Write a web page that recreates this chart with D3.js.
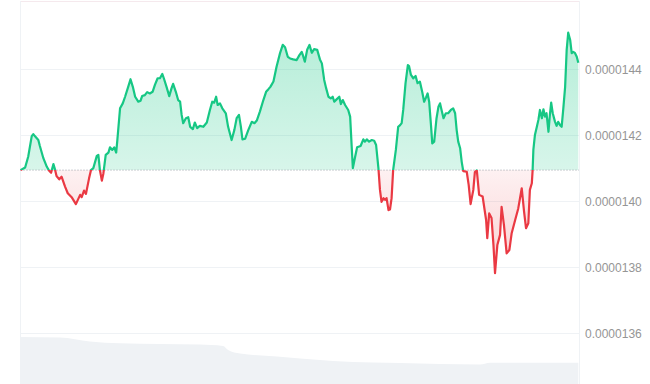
<!DOCTYPE html>
<html><head><meta charset="utf-8">
<script src="https://cdn.jsdelivr.net/npm/d3@7"></script>
<style>html,body{margin:0;padding:0;background:#fff;} svg{display:block;}</style>
</head><body>
<svg id="chart" width="650" height="384"></svg>
<script>
// time in minutes since window start (24h)
const timesMin = [0,12,20,29,33,37,46,50,59,68,74,79,85,89,93,100,106,115,122,132,143,154,158,164,169,177,182,188,197,201,205,210,214,220,227,231,237,242,247,250,257,264,270,278,284,290,296,304,310,314,321,327,334,341,347,354,360,366,370,377,384,390,394,401,407,412,416,420,427,433,438,445,450,456,463,472,481,489,495,500,505,509,515,521,530,536,545,552,558,564,569,573,580,588,597,604,610,618,627,634,640,645,648,653,661,670,677,683,690,696,704,713,720,726,729,734,740,746,752,758,766,773,778,784,789,795,801,806,810,816,823,827,832,838,846,851,855,858,864,869,878,885,889,894,900,907,913,918,924,928,932,937,941,945,950,954,958,962,969,975,980,984,988,994,1000,1003,1008,1014,1020,1025,1031,1037,1042,1047,1051,1055,1060,1063,1068,1074,1079,1083,1087,1092,1098,1104,1111,1117,1122,1126,1130,1135,1139,1143,1152,1157,1162,1169,1173,1178,1184,1193,1202,1205,1210,1216,1221,1225,1231,1238,1242,1248,1255,1262,1268,1277,1285,1294,1300,1305,1311,1315,1320,1322,1324,1328,1333,1337,1341,1346,1350,1354,1358,1363,1367,1370,1374,1380,1384,1388,1393,1397,1401,1406,1410,1414,1419,1423,1427,1431,1436,1440];

const prices = [
1.4094e-5,1.4102e-5,1.4135e-5,1.4197e-5,1.4203e-5,1.4197e-5,1.4185e-5,1.4167e-5,1.4130e-5,1.4104e-5,
1.4092e-5,1.4086e-5,1.4112e-5,1.4096e-5,1.4076e-5,1.4066e-5,1.4074e-5,1.4044e-5,1.4024e-5,1.4012e-5,
1.3991e-5,1.4019e-5,1.4012e-5,1.4032e-5,1.4022e-5,1.4069e-5,1.4094e-5,1.4100e-5,1.4137e-5,1.4140e-5,
1.4094e-5,1.4062e-5,1.4084e-5,1.4140e-5,1.4147e-5,1.4163e-5,1.4155e-5,1.4163e-5,1.4147e-5,1.4185e-5,
1.4281e-5,1.4296e-5,1.4316e-5,1.4346e-5,1.4369e-5,1.4346e-5,1.4316e-5,1.4301e-5,1.4304e-5,1.4318e-5,
1.4321e-5,1.4330e-5,1.4326e-5,1.4331e-5,1.4352e-5,1.4372e-5,1.4372e-5,1.4385e-5,1.4372e-5,1.4346e-5,
1.4318e-5,1.4342e-5,1.4355e-5,1.4331e-5,1.4306e-5,1.4301e-5,1.4261e-5,1.4236e-5,1.4251e-5,1.4254e-5,
1.4225e-5,1.4218e-5,1.4238e-5,1.4221e-5,1.4228e-5,1.4225e-5,1.4238e-5,1.4276e-5,1.4301e-5,1.4298e-5,
1.4316e-5,1.4291e-5,1.4296e-5,1.4281e-5,1.4266e-5,1.4225e-5,1.4185e-5,1.4215e-5,1.4251e-5,1.4261e-5,
1.4225e-5,1.4187e-5,1.4189e-5,1.4215e-5,1.4240e-5,1.4236e-5,1.4244e-5,1.4271e-5,1.4306e-5,1.4331e-5,
1.4339e-5,1.4346e-5,1.4352e-5,1.4362e-5,1.4407e-5,1.4448e-5,1.4473e-5,1.4466e-5,1.4437e-5,1.4432e-5,
1.4429e-5,1.4427e-5,1.4442e-5,1.4452e-5,1.4442e-5,1.4422e-5,1.4458e-5,1.4473e-5,1.4449e-5,1.4460e-5,
1.4458e-5,1.4429e-5,1.4417e-5,1.4367e-5,1.4342e-5,1.4316e-5,1.4311e-5,1.4316e-5,1.4301e-5,1.4308e-5,
1.4316e-5,1.4294e-5,1.4306e-5,1.4291e-5,1.4276e-5,1.4256e-5,1.4165e-5,1.4100e-5,1.4135e-5,1.4163e-5,
1.4167e-5,1.4187e-5,1.4180e-5,1.4187e-5,1.4180e-5,1.4185e-5,1.4183e-5,1.4170e-5,1.4100e-5,1.4034e-5,
1.3998e-5,1.4009e-5,1.4004e-5,1.4009e-5,1.3973e-5,1.3975e-5,1.4009e-5,1.4094e-5,1.4155e-5,1.4225e-5,
1.4230e-5,1.4236e-5,1.4276e-5,1.4357e-5,1.4412e-5,1.4409e-5,1.4382e-5,1.4372e-5,1.4379e-5,1.4357e-5,
1.4362e-5,1.4331e-5,1.4301e-5,1.4314e-5,1.4326e-5,1.4301e-5,1.4225e-5,1.4175e-5,1.4180e-5,1.4251e-5,
1.4286e-5,1.4296e-5,1.4276e-5,1.4251e-5,1.4266e-5,1.4266e-5,1.4276e-5,1.4281e-5,1.4266e-5,1.4215e-5,
1.4180e-5,1.4160e-5,1.4119e-5,1.4091e-5,1.4089e-5,1.4049e-5,1.3991e-5,1.4034e-5,1.4088e-5,1.4093e-5,
1.4019e-5,1.4014e-5,1.3943e-5,1.3888e-5,1.3963e-5,1.3949e-5,1.3867e-5,1.3782e-5,1.3867e-5,1.3898e-5,
1.3983e-5,1.3928e-5,1.3842e-5,1.3852e-5,1.3903e-5,1.3943e-5,1.3978e-5,1.4039e-5,1.3968e-5,1.3918e-5,
1.3933e-5,1.4034e-5,1.4054e-5,1.4092e-5,1.4155e-5,1.4200e-5,1.4225e-5,1.4246e-5,1.4276e-5,1.4251e-5,
1.4278e-5,1.4256e-5,1.4266e-5,1.4210e-5,1.4266e-5,1.4298e-5,1.4266e-5,1.4240e-5,1.4228e-5,1.4240e-5,
1.4230e-5,1.4225e-5,1.4276e-5,1.4346e-5,1.4458e-5,1.4510e-5,1.4488e-5,1.4448e-5,1.4452e-5,1.4449e-5,
1.4437e-5,1.4419e-5];

// volume (thousands) sampled over the same window
const volTimes = [0,102,179,257,360,463,523,536,567,662,722,807,910,980,1186,1212,1440];
const volumes  = [47,46.5,42.5,40.7,40,39.5,38,34,30.5,27.5,25.5,23,21.5,21,19.5,21.3,21.3];

const yTickValues = [1.44e-5,1.42e-5,1.40e-5,1.38e-5,1.36e-5];
const yTickLabels = ["0.0000144","0.0000142","0.0000140","0.0000138","0.0000136"];

const W = 650, H = 384;
const n = Math.min(timesMin.length, prices.length);
const data = d3.range(n).map(i => ({t: timesMin[i], p: prices[i]}));
const vol = volTimes.map((t, i) => ({t, v: volumes[i]}));
const openPrice = prices[0];

const x = d3.scaleLinear().domain([0, 1440]).range([20.5, 578.3]);
const y = d3.scaleLinear().domain([1.36e-5, 1.44e-5]).range([333.3, 69]);
const yVol = d3.scaleLinear().domain([0, 50]).range([384, 334]);
const yBase = y(openPrice);

const svg = d3.select("#chart");
const defs = svg.append("defs");

const gG = defs.append("linearGradient").attr("id","gGreen").attr("gradientUnits","userSpaceOnUse")
  .attr("x1",0).attr("x2",0).attr("y1",30).attr("y2",yBase);
gG.append("stop").attr("offset",0).attr("stop-color","#16c784").attr("stop-opacity",0.32);
gG.append("stop").attr("offset",1).attr("stop-color","#16c784").attr("stop-opacity",0.17);
const gR = defs.append("linearGradient").attr("id","gRed").attr("gradientUnits","userSpaceOnUse")
  .attr("x1",0).attr("x2",0).attr("y1",yBase).attr("y2",275);
gR.append("stop").attr("offset",0).attr("stop-color","#ea3943").attr("stop-opacity",0.07);
gR.append("stop").attr("offset",1).attr("stop-color","#ea3943").attr("stop-opacity",0.24);

defs.append("clipPath").attr("id","above").append("rect")
  .attr("x",0).attr("y",0).attr("width",W).attr("height",yBase);
defs.append("clipPath").attr("id","below").append("rect")
  .attr("x",0).attr("y",yBase).attr("width",W).attr("height",H-yBase);

// volume area
svg.append("path").datum(vol)
  .attr("d", d3.area().x(d=>x(d.t)).y0(H).y1(d=>yVol(d.v)).curve(d3.curveMonotoneX))
  .attr("fill","#eff2f5");

// gridlines
svg.append("g").selectAll("line").data(yTickValues).join("line")
  .attr("x1",20.5).attr("x2",579).attr("y1",d=>Math.round(y(d))+0.5).attr("y2",d=>Math.round(y(d))+0.5)
  .attr("stroke","#eff2f5").attr("stroke-width",1);
// frame
svg.append("line").attr("x1",20.5).attr("x2",579).attr("y1",1.5).attr("y2",1.5).attr("stroke","#f5e9ed");
svg.append("line").attr("x1",20.5).attr("x2",20.5).attr("y1",1).attr("y2",H).attr("stroke","#eff2f5");
svg.append("line").attr("x1",579.5).attr("x2",579.5).attr("y1",1).attr("y2",H).attr("stroke","#eff2f5");

// axis labels
const axis = d3.axisRight(y).tickValues(yTickValues).tickSize(0).tickPadding(0)
  .tickFormat((d,i) => yTickLabels[i]);
const ag = svg.append("g").attr("transform","translate(585,0)").call(axis);
ag.select(".domain").remove();
ag.selectAll("text").attr("font-family","Arial, 'Liberation Sans', sans-serif")
  .attr("font-size",12).attr("fill","#959595").attr("dy","0.36em");

// areas
const area = d3.area().x(d=>x(d.t)).y0(yBase).y1(d=>y(d.p));
svg.append("path").datum(data).attr("d",area).attr("fill","url(#gGreen)").attr("clip-path","url(#above)");
svg.append("path").datum(data).attr("d",area).attr("fill","url(#gRed)").attr("clip-path","url(#below)");

// baseline
svg.append("line").attr("x1",20.5).attr("x2",579).attr("y1",yBase).attr("y2",yBase)
  .attr("stroke","#9aa0a8").attr("stroke-width",1).attr("stroke-dasharray","1,2");

// lines
const line = d3.line().x(d=>x(d.t)).y(d=>y(d.p));
svg.append("path").datum(data).attr("d",line).attr("fill","none").attr("stroke","#16c784")
  .attr("stroke-width",2.2).attr("stroke-linejoin","round").attr("clip-path","url(#above)");
svg.append("path").datum(data).attr("d",line).attr("fill","none").attr("stroke","#ea3943")
  .attr("stroke-width",2.2).attr("stroke-linejoin","round").attr("clip-path","url(#below)");
</script>
</body></html>
